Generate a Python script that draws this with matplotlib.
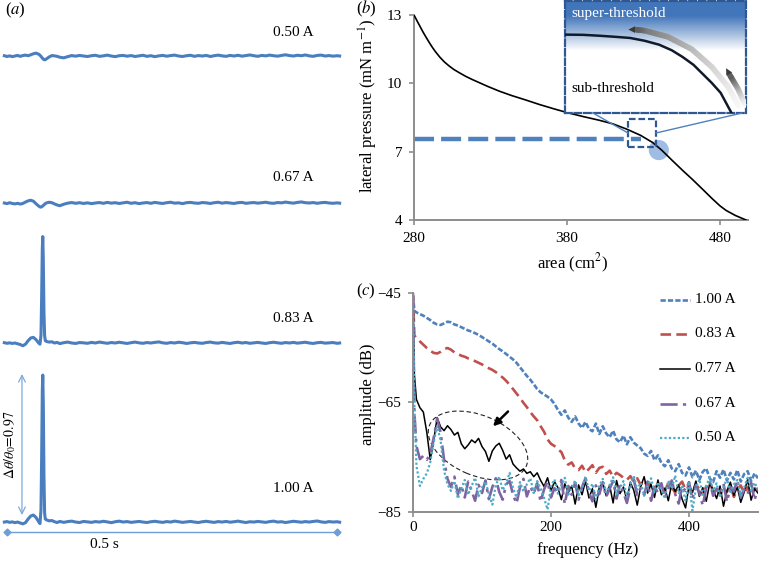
import numpy as np
import matplotlib
matplotlib.use("Agg")
import matplotlib.pyplot as plt
from matplotlib.patches import Ellipse, Rectangle
from matplotlib.lines import Line2D
from matplotlib.collections import LineCollection
from matplotlib.transforms import ScaledTranslation

plt.rcParams['font.family'] = ['Liberation Serif', 'DejaVu Serif']
plt.rcParams['mathtext.fontset'] = 'stix'

# ---------------- data: panel (a) time traces (delta theta / theta0) ----------------
t_a = np.concatenate([np.arange(-4, 49, 4),
                      [50, 51.5, 52.5, 53.5, 54.2, 55, 56, 57, 58],
                      np.arange(60, 81, 4), np.arange(86, 501, 6), [504]])

trace_050 = [0.002, -0.003, 0.001, -0.004, 0.000, 0.004, -0.002, 0.003, 0.006, 0.002, 0.008, 0.015, 0.019, 0.012,
             0.005, -0.002, -0.008, -0.013, -0.017, -0.020, -0.023, -0.025, -0.024,
             -0.018, -0.006, 0.003, 0.001, -0.002, -0.008,
             -0.012, -0.004, 0.003, -0.001, 0.004, 0.000, -0.003, 0.002, 0.005, -0.002,
             0.001, 0.006, 0.000, -0.004, 0.002, 0.004, -0.001, 0.003, -0.003, 0.001,
             0.005, -0.002, 0.002, -0.004, 0.001, 0.004, -0.001, 0.003, 0.006, 0.000,
             -0.003, 0.002, 0.005, -0.002, 0.003, 0.000, 0.004, -0.003, 0.002, 0.006,
             0.001, -0.002, 0.004, 0.000, 0.005, -0.001, 0.003, 0.007, 0.002, -0.002,
             0.004, 0.001, 0.006, 0.002, -0.001, 0.004, 0.008, 0.003, 0.000, 0.005,
             0.002, 0.007, 0.001, -0.002, 0.004, 0.006, 0.000, 0.003, -0.001, 0.002,
             0.000]
trace_067 = [0.000, -0.004, 0.002, -0.003, -0.006, -0.002, -0.007, -0.003, 0.006, 0.014, 0.018, 0.012, -0.005, -0.020,
             -0.026, -0.027, -0.025, -0.022, -0.019, -0.016, -0.012, -0.008, -0.004,
             0.001, 0.005, 0.002, -0.006, -0.013, -0.018,
             -0.008, -0.001, 0.003, -0.002, 0.002, -0.003, 0.001, -0.004, 0.000, 0.003,
             -0.002, 0.004, -0.001, 0.002, -0.003, 0.001, 0.005, -0.002, 0.002, -0.004,
             0.000, 0.003, -0.002, 0.004, 0.000, -0.003, 0.002, 0.005, -0.001, 0.001,
             -0.004, 0.002, 0.004, 0.000, -0.002, 0.003, 0.001, -0.003, 0.002, 0.005,
             -0.001, 0.003, 0.000, -0.003, 0.002, 0.004, -0.002, 0.001, 0.003, -0.001,
             0.002, 0.005, 0.000, -0.002, 0.003, 0.001, 0.006, 0.002, -0.001, 0.004,
             0.007, 0.002, 0.000, 0.003, -0.002, 0.002, 0.004, 0.000, -0.002, 0.001,
             -0.001]
trace_083 = [0.002, -0.002, 0.001, -0.003, 0.000, -0.005, -0.010, -0.018, -0.008, 0.015, 0.033, 0.037, 0.022, 0.000,
             -0.008, 0.05, 0.30, 0.62, 0.70, 0.55, 0.20, 0.05, 0.015,
             0.010, 0.006, 0.008, 0.000, 0.004, -0.004,
             0.002, 0.006, 0.000, -0.003, 0.003, 0.001, -0.002, 0.004, 0.000, 0.006,
             0.002, -0.002, 0.003, 0.000, 0.005, 0.001, -0.003, 0.002, 0.006, 0.001,
             -0.002, 0.003, 0.000, 0.004, 0.007, 0.001, -0.002, 0.003, 0.000, 0.005,
             0.002, -0.003, 0.001, 0.004, 0.000, -0.002, 0.003, 0.006, 0.001, -0.001,
             0.004, 0.000, -0.003, 0.002, 0.005, 0.000, 0.003, -0.002, 0.001, 0.004,
             0.000, -0.003, 0.002, 0.005, 0.001, -0.002, 0.003, 0.000, 0.004, -0.001,
             0.002, 0.005, 0.000, -0.003, 0.002, 0.004, -0.001, 0.001, 0.003, -0.002,
             0.000]
trace_100 = [0.000, 0.003, -0.002, 0.001, -0.004, 0.000, -0.006, -0.012, -0.004, 0.020, 0.040, 0.046, 0.030, 0.002,
             -0.010, 0.08, 0.42, 0.86, 0.967, 0.78, 0.30, 0.06, 0.020,
             0.014, 0.008, 0.010, 0.002, -0.003, 0.004,
             -0.002, 0.003, 0.006, 0.000, -0.003, 0.004, 0.001, -0.002, 0.003, 0.000,
             0.005, 0.001, -0.004, 0.002, 0.006, 0.000, 0.003, -0.002, 0.001, 0.004,
             0.000, -0.003, 0.002, 0.005, 0.001, -0.002, 0.003, 0.000, 0.006, 0.002,
             -0.002, 0.001, 0.004, 0.000, -0.003, 0.002, 0.005, 0.001, -0.002, 0.003,
             0.000, 0.004, -0.001, 0.002, 0.006, 0.001, -0.003, 0.002, 0.000, 0.004,
             0.001, -0.002, 0.003, 0.006, 0.000, 0.002, -0.003, 0.001, 0.005, 0.002,
             -0.001, 0.003, 0.000, 0.004, 0.007, 0.001, -0.002, 0.003, 0.000, 0.002,
             -0.001]
labels_a = ['0.50 A', '0.67 A', '0.83 A', '1.00 A']
spike_height = 0.97

# ---------------- data: panel (b) isotherm ----------------
area_b = [280, 282, 284, 286, 288, 290, 292, 294, 297, 300, 303, 306, 310, 314, 318, 322, 328, 336, 344,
          353, 362, 372, 381, 390, 401, 410, 419, 428, 436, 442, 449, 456, 462, 468, 475, 480, 484, 490, 497]
press_b = [13.0, 12.74, 12.49, 12.24, 12.01, 11.79, 11.58, 11.39, 11.14, 10.93, 10.76, 10.61, 10.45, 10.30,
           10.17, 10.05, 9.87, 9.65, 9.46, 9.27, 9.07, 8.87, 8.70, 8.55, 8.38, 8.22, 7.99, 7.72, 7.40, 7.06,
           6.60, 6.15, 5.78, 5.39, 4.93, 4.62, 4.42, 4.20, 4.0]
threshold_p = 7.56
state_point = (440, 7.07)
zoom_box = (419.8, 7.22, 437.9, 8.43)

# inset (schematic) curve, normalised inset coordinates
inset_x = [0.0, 0.10, 0.19, 0.28, 0.36, 0.44, 0.52, 0.59, 0.65, 0.71, 0.76, 0.81, 0.86, 0.89, 0.92]
inset_y = [0.70, 0.698, 0.69, 0.68, 0.67, 0.645, 0.61, 0.56, 0.50, 0.43, 0.35, 0.27, 0.18, 0.09, 0.0]

# ---------------- data: panel (c) spectra (dB) ----------------
freq_c = np.concatenate([[0, 2], np.arange(5, 501, 5)])
amp_100 = [-45.5, -48.3, -48.6, -48.9, -49.2, -49.6, -50.0, -50.5, -50.8, -50.9,
           -50.6, -50.3, -50.4, -50.8, -51.0, -51.3, -51.6, -51.9, -52.1, -52.4,
           -52.7, -53.1, -53.5, -53.9, -54.3, -54.8, -55.3, -55.7, -56.2, -56.7,
           -57.2, -57.8, -58.6, -59.4, -60.2, -60.9, -61.7, -62.6, -63.2, -63.6,
           -64.0, -64.5, -65.3, -66.4, -67.3, -66.5, -67.8, -68.6, -67.6, -68.9,
           -69.7, -68.6, -69.9, -70.3, -68.9, -70.8, -69.4, -70.7, -71.4, -70.2,
           -71.8, -72.3, -71.1, -72.7, -71.4, -72.4, -72.9, -73.4, -74.4, -74.8,
           -73.9, -75.6, -74.7, -76.1, -76.7, -75.6, -77.1, -77.6, -76.3, -77.9,
           -78.4, -76.9, -78.7, -77.5, -79.2, -77.7, -77.1, -78.9, -79.6, -77.6,
           -78.8, -77.3, -79.3, -77.9, -79.1, -77.4, -79.5, -78.1, -77.6, -79.4,
           -78.0, -78.9]
amp_083 = [-45.5, -52.8, -53.3, -53.9, -54.5, -55.1, -55.6, -56.0, -56.1, -55.8,
           -55.3, -55.1, -55.4, -55.9, -56.2, -56.5, -56.7, -57.0, -57.2, -57.5,
           -57.8, -58.1, -58.5, -58.8, -59.1, -59.5, -60.0, -60.5, -61.1, -61.8,
           -62.6, -63.4, -64.2, -65.1, -65.9, -66.8, -67.6, -68.3, -69.4, -70.4,
           -71.8, -72.6, -73.0, -73.6, -74.1, -75.6, -76.4, -76.0, -77.1, -77.4,
           -76.6, -77.8, -77.2, -76.5, -77.9, -77.0, -76.8, -78.1, -77.5, -78.6,
           -77.9, -78.3, -78.8, -79.2, -78.5, -79.6, -78.9, -80.1, -79.3, -80.5,
           -79.6, -80.8, -79.9, -80.4, -81.2, -79.8, -80.6, -81.5, -80.2, -79.5,
           -81.0, -80.3, -81.7, -80.0, -80.9, -81.8, -80.4, -79.7, -81.3, -80.6,
           -82.0, -80.8, -81.4, -80.1, -82.3, -81.0, -80.2, -81.6, -80.5, -81.9,
           -80.7, -81.2]
amp_077 = [-45.5, -60.0, -64.5, -66.0, -66.8, -70.5, -75.5, -72.0, -67.8, -69.5,
           -70.2, -69.3, -70.0, -71.0, -70.5, -72.6, -73.5, -72.8, -71.9, -72.4,
           -71.6, -73.1, -74.0, -75.8, -73.9, -73.0, -72.5, -73.8, -75.4, -74.6,
           -76.3, -77.0, -77.6, -77.2, -78.0, -77.7, -78.6, -77.9, -79.3, -80.4,
           -78.8, -81.2, -79.5, -80.6, -82.8, -79.9, -81.5, -80.3, -83.6, -80.1,
           -81.9, -79.4, -82.5, -80.8, -84.2, -80.6, -79.7, -82.1, -80.2, -83.4,
           -79.3, -81.7, -80.5, -82.9, -79.6, -81.1, -83.8, -80.4, -78.6, -81.6,
           -80.0, -82.4, -79.2, -81.9, -80.7, -83.0, -79.9, -81.3, -80.1, -82.7,
           -84.3, -80.2, -81.5, -79.4, -82.2, -80.6, -83.1, -79.8, -81.0, -82.6,
           -80.3, -84.0, -81.2, -79.6, -82.0, -80.5, -83.3, -81.4, -79.1, -82.9,
           -80.8, -81.6]
amp_067 = [-45.0, -66.9, -73.0, -75.4, -74.8, -75.5, -74.5, -71.5, -68.0, -70.5,
           -75.5, -79.0, -80.5, -78.6, -81.8, -80.2, -82.4, -79.5, -81.2, -83.0,
           -80.1, -81.6, -79.3, -82.7, -80.5, -78.9, -81.4, -82.8, -80.0, -79.4,
           -81.9, -83.5, -80.6, -79.0, -82.2, -80.4, -81.7, -79.8, -83.2, -80.9,
           -79.5, -82.4, -80.7, -81.6, -79.2, -83.6, -80.3, -81.9, -79.7, -82.8,
           -80.5, -78.9, -81.4, -83.1, -80.2, -81.8, -79.6, -82.3, -80.8, -79.4,
           -82.6, -80.0, -81.5, -83.4, -80.6, -79.1, -82.0, -80.7, -81.9, -79.5,
           -83.0, -80.3, -81.6, -79.8, -82.5, -80.9, -79.3, -81.8, -83.5, -80.4,
           -81.2, -79.6, -82.7, -80.1, -81.5, -83.9, -80.6, -79.4, -82.1, -80.8,
           -81.7, -79.9, -83.2, -80.5, -81.3, -79.2, -82.4, -80.9, -81.8, -79.7,
           -82.9, -80.6]
amp_050 = [-46.0, -65.5, -76.6, -80.3, -79.0, -78.0, -76.0, -72.3, -69.4, -72.0,
           -77.5, -80.0, -81.2, -79.4, -82.6, -80.8, -79.2, -81.9, -80.3, -78.8,
           -82.2, -80.6, -79.5, -81.8, -83.7, -80.2, -78.6, -81.1, -79.8, -77.9,
           -80.7, -82.4, -79.6, -81.3, -80.0, -78.9, -81.6, -79.4, -80.8, -82.5,
           -84.6, -80.4, -79.1, -81.7, -80.2, -78.8, -81.9, -80.5, -79.3, -82.0,
           -80.7, -78.6, -81.2, -79.9, -82.8, -80.3, -79.0, -81.5, -80.1, -78.7,
           -81.8, -80.6, -79.4, -82.3, -80.0, -78.5, -81.0, -79.7, -82.1, -80.4,
           -78.9, -81.4, -79.6, -80.9, -82.6, -79.3, -80.8, -78.4, -81.6, -80.2,
           -83.0, -79.5, -84.8, -80.7, -79.1, -81.9, -80.3, -78.7, -81.2, -79.8,
           -82.4, -80.5, -78.9, -81.7, -80.0, -79.2, -82.1, -80.6, -78.8, -81.3,
           -79.7, -80.9]
labels_c = ['1.00 A', '0.83 A', '0.77 A', '0.67 A', '0.50 A']

# ---------------- figure ----------------
W, H = 759, 561
fig = plt.figure(figsize=(W / 100, H / 100), dpi=100)


def box(x0, y0, x1, y1):
    """pixel box (top-left, bottom-right of the image) -> figure rect"""
    return [x0 / W, 1 - y1 / H, (x1 - x0) / W, (y1 - y0) / H]


def fx(x):
    return x / W


def fy(y):
    return 1 - y / H


BLUE = '#4a7ebf'
GRAY = '#8c8c8c'
DARKBLUE = '#2f5792'

# ---- (a) ----
ax_a = fig.add_axes(box(0, 20, 350, 545))
ax_a.axis('off')
ax_a.set_xlim(-10.6, 519.7)
ax_a.set_ylim(-0.151, 3.303)

offsets = [3.066, 2.099, 1.178, 0.0]
label_y = [3.22, 2.27, 1.34, 0.224]
for vals, off, lab, ly in zip([trace_050, trace_067, trace_083, trace_100], offsets, labels_a, label_y):
    ax_a.plot(t_a, np.array(vals) + off, color=BLUE, lw=2.2, solid_joinstyle='round')
    ax_a.text(403, ly, lab, fontsize=11, va='center', ha='left')

# time scale bar
ax_a.plot([0, 500], [-0.066, -0.066], color='#6f9dd6', lw=1.0, marker='D', ms=3.5)
ax_a.text(148, -0.15, '0.5 s', fontsize=11, ha='center', va='center')
# amplitude arrow
ax_a.annotate('', xy=(22.7, spike_height + 0.004), xytext=(22.7, 0.046),
              arrowprops=dict(arrowstyle='<->', color='#7fa8dc', lw=0.9,
                              shrinkA=0, shrinkB=0, mutation_scale=12))
ax_a.text(4.5, 0.51, r'$\Delta\theta/\theta_0\!=\!%.2f$' % spike_height, rotation=90,
          fontsize=10, ha='center', va='center')
fig.text(fx(5), fy(10), r'($a$)', fontsize=12, va='center')

# ---- (b) ----
ax_b = fig.add_axes(box(414, 15, 748, 220))
ax_b.set_xlim(280, 280 + (748 - 414) / 1.53)
ax_b.set_ylim(4, 13)
ax_b.plot([280, 428.6], [threshold_p, threshold_p], color='#4f81bd', lw=3.2, dashes=(4.5, 1.6), zorder=2)
ax_b.scatter([state_point[0]], [state_point[1]], s=210, color='#9ebce4', edgecolor='none', zorder=2)
ax_b.plot(area_b, press_b, color='black', lw=1.2, zorder=3)
ax_b.add_patch(Rectangle((zoom_box[0], zoom_box[1]), zoom_box[2] - zoom_box[0], zoom_box[3] - zoom_box[1],
                         fill=False, ec=DARKBLUE, lw=1.6, ls=(0, (3, 1.3)), zorder=4))
for s in ['top', 'right']:
    ax_b.spines[s].set_visible(False)
for s in ['left', 'bottom']:
    ax_b.spines[s].set_color(GRAY)
    ax_b.spines[s].set_linewidth(1.4)
ax_b.set_xticks([280, 380, 480])
ax_b.set_yticks([4, 7, 10, 13])
ax_b.tick_params(length=3.5, width=1.2, color=GRAY, labelsize=11, pad=5)
fig.text(fx(368), fy(106), r'lateral pressure (mN m$^{-1}$)', rotation=90, fontsize=12,
         ha='center', va='center')
fig.text(fx(573), fy(263), r'area (cm$^2$)', fontsize=12, ha='center', va='center')
fig.text(fx(356), fy(9), r'($b$)', fontsize=12, va='center')

# inset
ax_in = fig.add_axes(box(565, 1, 746, 113))
ax_in.set_xlim(0, 1)
ax_in.set_ylim(0, 1)
ax_in.set_xticks([])
ax_in.set_yticks([])
v = np.linspace(0, 1, 200)
top_blue = np.array([66, 118, 186]) / 255
mix = np.clip((v - 0.56) / 0.31, 0, 1)
grad = 1 - mix[:, None] * (1 - top_blue)
ax_in.imshow(grad[:, None, :], extent=[0, 1, 0, 1], origin='lower', aspect='auto', zorder=0)
for s in ax_in.spines.values():
    s.set_color(DARKBLUE)
    s.set_linewidth(1.6)
    s.set_linestyle((0, (3, 1.3)))
ax_in.plot(inset_x, inset_y, color='#111a2a', lw=1.8, zorder=3)
ax_in.text(0.033, 0.89, 'super-threshold', color='white', fontsize=11, va='center')
ax_in.text(0.033, 0.22, 'sub-threshold', color='black', fontsize=11, va='center')


def grad_arrow(ax, xs, ys, head):
    px, py = [], []
    for i in range(len(xs) - 1):
        s = np.linspace(0, 1, 8, endpoint=False)
        px.extend(xs[i] + s * (xs[i + 1] - xs[i]))
        py.extend(ys[i] + s * (ys[i + 1] - ys[i]))
    px.append(xs[-1])
    py.append(ys[-1])
    pts = np.column_stack([px, py])
    segs = np.stack([pts[:-1], pts[1:]], axis=1)
    cols = plt.cm.Greys(np.linspace(0.05, 0.7, len(segs)))
    ax.add_collection(LineCollection(segs, colors=cols, lw=4.0, capstyle='round', zorder=4))
    ax.annotate('', xy=head, xytext=(xs[-1], ys[-1]),
                arrowprops=dict(arrowstyle='-|>', color='#3a3a3a', lw=0,
                                mutation_scale=12, shrinkA=0, shrinkB=0), zorder=5)


grad_arrow(ax_in, [0.96, 0.90, 0.812, 0.70, 0.569, 0.442, 0.39],
           [0.06, 0.235, 0.41, 0.57, 0.68, 0.735, 0.745], (0.35, 0.745))
grad_arrow(ax_in, [0.995, 0.956, 0.91], [0.07, 0.215, 0.34], (0.89, 0.40))

# connector lines
for (x0, y0), (x1, y1) in [((593, 113), (628, 133)), ((656, 133), (742, 113))]:
    fig.add_artist(Line2D([fx(x0), fx(x1)], [fy(y0), fy(y1)], color='#4f81bd', lw=1.0))

# ---- (c) ----
ax_c = fig.add_axes(box(413, 292.7, 758, 511.7))
ax_c.set_xlim(0, 500)
ax_c.set_ylim(-85, -45)
styles = [dict(color='#4f81bd', lw=1.9, dashes=(2.0, 0.8)),
          dict(color='#c0504d', lw=1.9, dashes=(4.0, 2.0)),
          dict(color='black', lw=1.1),
          dict(color='#8064a2', lw=1.9, dashes=(6.5, 2.0, 1.2, 2.0)),
          dict(color='#4bacc6', lw=1.6, dashes=(1.0, 1.0))]
for vals, st in zip([amp_100, amp_083, amp_077, amp_067, amp_050], styles):
    ax_c.plot(freq_c, vals, **st)

# legend drawn by hand on the right
leg_db = [-46.33, -52.5, -58.9, -65.3, -71.5]
for lab, st, yy in zip(labels_c, styles, leg_db):
    ax_c.plot([358, 401.5], [yy, yy], clip_on=False, **st)
    ax_c.text(408.5, yy, lab, fontsize=11, va='center', ha='left')

for s in ['top', 'right']:
    ax_c.spines[s].set_visible(False)
for s in ['left', 'bottom']:
    ax_c.spines[s].set_color(GRAY)
    ax_c.spines[s].set_linewidth(1.4)
ax_c.set_xticks([0, 200, 400])
ax_c.set_yticks([-85, -65, -45])
ax_c.tick_params(length=3.5, width=1.2, color=GRAY, labelsize=11)
ax_c.tick_params(axis='x', pad=3)
ax_c.tick_params(axis='y', pad=5)

ell = Ellipse((0, 0), width=1.05, height=0.60, angle=-23, fill=False, ec='#222222', lw=0.8,
              ls=(0, (4, 2.5)),
              transform=fig.dpi_scale_trans + ScaledTranslation(94.2, -72.9, ax_c.transData))
ax_c.add_patch(ell)
ax_c.annotate('', xy=(115.9, -69.4), xytext=(137.7, -66.7),
              arrowprops=dict(arrowstyle='-|>', color='black', lw=1.8, mutation_scale=11,
                              shrinkA=0, shrinkB=0))

fig.text(fx(368), fy(394), 'amplitude (dB)', rotation=90, fontsize=12, ha='center', va='center')
fig.text(fx(588), fy(550), 'frequency (Hz)', fontsize=12, ha='center', va='center')
fig.text(fx(356), fy(291), r'($c$)', fontsize=12, va='center')

fig.savefig('out.png', dpi=100)
